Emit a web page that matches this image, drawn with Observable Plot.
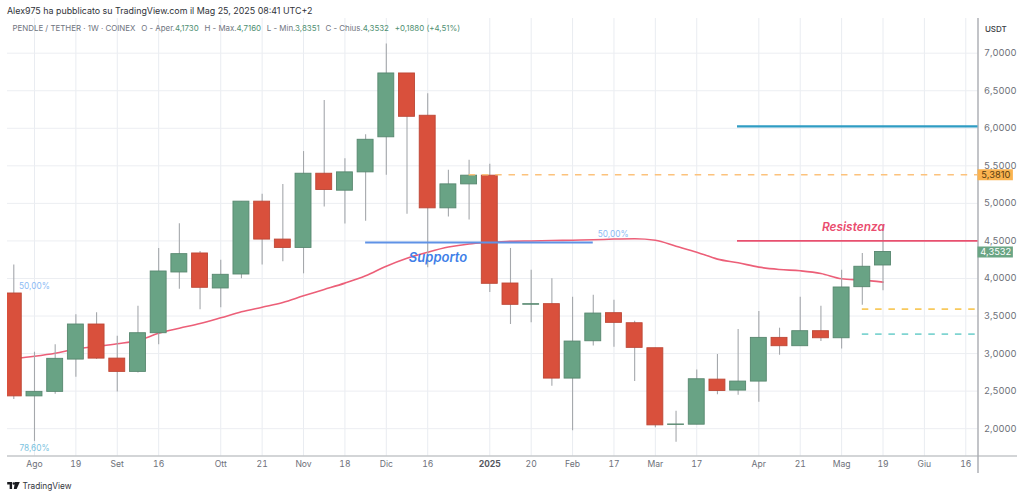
<!DOCTYPE html>
<html>
<head>
<meta charset="utf-8">
<script src="https://cdn.jsdelivr.net/npm/d3@7"></script>
<script src="https://cdn.jsdelivr.net/npm/@observablehq/plot@0.6"></script>
<style>
html,body{margin:0;padding:0;background:#fff;font-family:Inter,"Noto Sans",sans-serif;overflow:hidden}
#wrap{position:relative;width:1024px;height:497px}
#title{position:absolute;left:7px;top:4px;font-size:8.9px;line-height:13px;color:#2f3238;white-space:nowrap}
#legend{position:absolute;left:12.5px;top:22px;font-size:7.9px;line-height:13px;color:#6f7480;white-space:nowrap;z-index:2}
#legend b{font-weight:400;color:#4f8f72}
#legend span{margin-right:3.5px}
#chart{position:absolute;left:0;top:18px}
#footer{position:absolute;left:7px;top:479px;height:13px;display:flex;align-items:center;font-size:8.3px;color:#33363c}
#footer svg{margin-right:2.5px}
</style>
</head>
<body>
<div id="wrap">
<div id="title">Alex975 ha pubblicato su TradingView.com il Mag 25, 2025 08:41 UTC+2</div>
<div id="legend"><span>PENDLE / TETHER · 1W · COINEX</span> <span>O - Aper.<b>4,1730</b></span> <span>H - Max.<b>4,7160</b></span> <span>L - Min.<b>3,8351</b></span> <span>C - Chius.<b>4,3532</b></span> <span><b>+0,1880 (+4,51%)</b></span></div>
<div id="chart"></div>
<div id="footer"><svg width="13" height="7" viewBox="0 0 36 20"><path d="M0 0h14v20H7V7H0z M22 0h14l-9 20h-8z" fill="#1a1c20"/><circle cx="19" cy="4" r="3.6" fill="#1a1c20"/></svg>TradingView</div>
</div>
<script>
const opens  = [3.80,2.43,2.49,2.92,3.387,2.933,2.756,3.271,4.08,4.333,3.867,4.053,5.023,4.518,4.407,5.395,5.169,5.413,5.88,6.73,6.167,4.934,5.253,5.369,3.933,3.65,3.658,2.667,3.164,3.538,3.404,3.071,2.05,2.053,2.653,2.507,2.627,3.209,3.098,3.298,3.204,3.884,4.173];
const highs  = [4.178,3.018,3.116,3.516,3.542,3.231,3.631,4.398,4.73,4.36,4.244,5.023,5.12,5.253,5.69,6.37,5.595,5.914,7.124,6.73,6.46,5.44,5.573,5.52,4.4,4.111,3.996,3.751,3.778,3.711,3.431,3.071,2.231,2.782,2.987,3.32,3.56,3.338,3.751,3.631,4.111,4.333,4.716];
const lows   = [2.39,1.83,2.458,2.684,2.92,2.489,2.742,3.116,3.858,3.582,3.609,3.996,4.178,4.222,4.062,4.952,4.726,4.762,5.373,4.855,4.142,4.82,4.78,3.813,3.387,3.409,2.564,1.973,3.102,3.084,2.627,2.013,1.818,2.053,2.453,2.444,2.351,2.978,3.098,3.16,3.062,3.644,3.8351];
const closes = [2.43,2.49,2.93,3.387,2.933,2.756,3.271,4.093,4.324,3.876,4.049,5.023,4.518,4.407,5.395,5.178,5.413,5.847,6.73,6.153,4.934,5.253,5.369,3.929,3.649,3.658,2.667,3.16,3.533,3.409,3.076,2.044,2.056,2.658,2.502,2.627,3.209,3.098,3.298,3.204,3.88,4.156,4.3532];
const ma     = [2.933,2.964,3.004,3.062,3.095,3.13,3.173,3.271,3.338,3.4,3.476,3.556,3.618,3.68,3.769,3.853,3.938,4.036,4.164,4.27,4.35,4.418,4.46,4.48,4.495,4.50,4.505,4.51,4.515,4.525,4.53,4.51,4.43,4.35,4.258,4.209,4.151,4.12,4.102,4.067,3.996,3.978,3.951];

const weekTicks  = [1,3,5,7,10,12,14,16,18,20,25,27,29,31,33,36,38,40,42,44,46];
const weekLabels = ["Ago","19","Set","16","Ott","21","Nov","18","Dic","16","20","Feb","17","Mar","17","Apr","21","Mag","19","Giu","16"];
const yearTick = [23];
const yearLabel = "2025";
const priceTicks = [2,2.5,3,3.5,4,4.5,5,5.5,6,6.5,7];

const solidLevels = [
  {x1:17,x2:28,y:4.478,color:"#5f92e6",w:2},
  {x1:34.97,x2:46.59,y:6.025,color:"#2f9cc3",w:2.4},
  {x1:34.97,x2:46.59,y:4.5,color:"#e8506f",w:1.8}
];
const dashedLevels = [
  {x1:22,x2:46.59,y:5.381,color:"#fcc27c"},
  {x1:41,x2:46.5,y:3.591,color:"#f8c95c"},
  {x1:41,x2:46.5,y:3.258,color:"#7fd4d1"}
];
const notes = [
  {x:20.5,y:4.28,t:"Supporto",color:"#3f7fe8",size:13},
  {x:40.57,y:4.68,t:"Resistenza",color:"#ea4d6f",size:11.9}
];
const fibs = [
  {x:1,y:3.893,t:"50,00%",color:"#8dbcf5"},
  {x:28.96,y:4.586,t:"50,00%",color:"#8dbcf5"},
  {x:1,y:1.737,t:"78,60%",color:"#7cc3e0"}
];
const badges = [
  {y:5.381,t:"5,3810",fill:"#fbb34f",color:"#5a3c10"},
  {y:4.3532,t:"4,3532",fill:"#6aa584",color:"#ffffff"}
];

const candles = opens.map((o,i)=>({i,o,h:highs[i],l:lows[i],c:closes[i]}));
const maRows = ma.map((v,i)=>({i,v}));
const up = d => d.c >= d.o;
const fmtPrice = v => v.toFixed(4).replace(".",",");
const xLeft = -0.304, xRight = 46.59, xOuter = 48.5, yBottom = 1.636, yTop = 7.462;

const chart = Plot.plot({
  width:1024, height:457,
  marginTop:0, marginBottom:19.5, marginLeft:7, marginRight:46.5,
  style:{fontFamily:"Inter, 'Noto Sans', sans-serif", background:"transparent"},
  x:{type:"linear",domain:[xLeft,xRight]},
  y:{type:"linear",domain:[yBottom,yTop]},
  marks:[
    Plot.gridX(weekTicks.concat(yearTick),{stroke:"#e9ecf1",strokeOpacity:1,strokeWidth:1}),
    Plot.gridY(priceTicks,{stroke:"#eceef2",strokeOpacity:1,strokeWidth:1}),
    Plot.ruleX([xRight],{y1:yTop,y2:1.403,stroke:"#9a9da3",strokeWidth:1.2}),
    Plot.ruleY([yBottom],{x1:xLeft,x2:xOuter,stroke:"#a8abb0",strokeWidth:1.1}),
    Plot.axisX({ticks:weekTicks,tickFormat:v=>weekLabels[weekTicks.indexOf(v)],tickSize:0,tickPadding:5,fontSize:8.6,color:"#6d7079",label:null,anchor:"bottom"}),
    Plot.axisX({ticks:yearTick,tickFormat:()=>yearLabel,tickSize:0,tickPadding:5,fontSize:8.6,fontWeight:"bold",color:"#55585f",label:null,anchor:"bottom"}),
    Plot.axisY({ticks:priceTicks,tickFormat:fmtPrice,anchor:"right",tickSize:0,tickPadding:6,fontSize:9.3,color:"#6d7079",label:null}),
    Plot.line(maRows,{x:"i",y:"v",stroke:"#ec5f78",strokeWidth:1.6,curve:"monotone-x"}),
    Plot.ruleX(candles,{x:"i",y1:"l",y2:"h",stroke:"#a5a8ac",strokeWidth:1.1}),
    Plot.rect(candles,{x1:d=>d.i-0.385,x2:d=>d.i+0.385,y1:"o",y2:"c",fill:d=>up(d)?"#69a385":"#d9503c",stroke:d=>up(d)?"#57876f":"#bd4736",strokeWidth:0.9,clip:true}),
    ...solidLevels.map(l=>Plot.ruleY([l.y],{x1:l.x1,x2:l.x2,stroke:l.color,strokeWidth:l.w})),
    ...dashedLevels.map(l=>Plot.ruleY([l.y],{x1:l.x1,x2:l.x2,stroke:l.color,strokeWidth:1.7,strokeDasharray:"6.5,6.8"})),
    ...badges.map(b=>Plot.ruleY([b.y],{x1:xRight,x2:48.3,stroke:b.fill,strokeWidth:11})),
    ...badges.map(b=>Plot.text([b],{x:47.45,y:"y",text:"t",fill:b.color,fontSize:9.3})),
    ...notes.map(n=>Plot.text([n],{x:"x",y:"y",text:"t",fill:n.color,fontSize:n.size,fontWeight:600,fontStyle:"italic"})),
    Plot.text(fibs,{x:"x",y:"y",text:"t",fill:"color",fontSize:8.3}),
    Plot.text(["USDT"],{x:47.45,y:7.316,text:d=>d,fill:"#3a3d43",fontSize:8,fontWeight:500})
  ]
});
document.getElementById("chart").appendChild(chart);
</script>
</body>
</html>
